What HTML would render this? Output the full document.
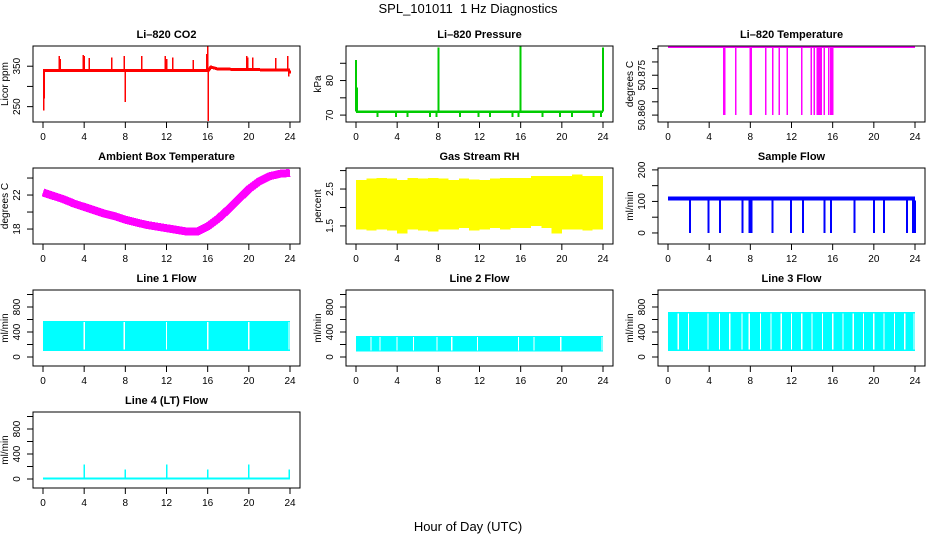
<!DOCTYPE html>
<html><head><meta charset="utf-8"><style>
body{margin:0;background:#fff}
svg{display:block;font-family:"Liberation Sans",sans-serif}
</style></head><body>
<svg id="c" width="936" height="540" viewBox="0 0 936 540" xmlns="http://www.w3.org/2000/svg">
<text x="468" y="13" text-anchor="middle" font-size="13" style="white-space:pre">SPL_101011&#160; 1 Hz Diagnostics</text>
<text x="468" y="531" text-anchor="middle" font-size="13">Hour of Day (UTC)</text>
</svg>
<script>
const xTicks=[0,4,8,12,16,20,24];
const co2BaseT=[0,16.1,16.3,17,24];
const co2BaseV=[340,340,348,343,340];
const co2SpikeT=[0.05,0.1,1.6,1.7,3.9,4.0,4.5,6.7,7.9,8.0,9.6,11.9,12.0,12.6,14.6,15.9,16.0,16.05,19.8,19.9,20.4,22.6,23.8,23.9,24.0];
const co2SpikeV=[240,270,375,368,378,375,370,372,375,262,375,375,368,372,365,380,400,215,375,372,372,370,375,325,332];
const presBase=[71];
const presSpikeT=[0,0.1,8.0,16.0,24.0];
const presSpikeV=[86,78,89.5,90,89.5];
const presDipT=[2.1,3.9,5.0,7.2,7.8,10.1,11.9,13.0,15.2,15.8,18.1,19.8,21.0,23.1,23.8];
const presDipV=[69.5];
const tempHigh=[50.8856];
const tempDropT=[5.4,5.5,6.6,8.0,8.1,9.5,10.2,10.8,11.6,13.0,13.9,14.2,14.5,14.6,14.7,14.8,14.9,15.2,15.6,15.8,15.9,16.0];
const tempDropV=[50.860];
const ambT=[0,1,2,3,4,5,6,7,8,9,10,11,12,13,14,15,16,17,18,19,20,21,22,23,24];
const ambV=[22.3,21.9,21.5,21.0,20.6,20.2,19.8,19.5,19.1,18.8,18.5,18.3,18.1,17.9,17.7,17.7,18.3,19.2,20.3,21.5,22.7,23.6,24.2,24.5,24.6];
const rhT=[0,1,2,3,4,5,6,7,8,9,10,11,12,13,14,15,16,17,18,19,20,21,22,23];
const rhTop=[2.75,2.78,2.8,2.78,2.75,2.8,2.78,2.8,2.78,2.75,2.78,2.76,2.75,2.78,2.8,2.8,2.8,2.85,2.85,2.85,2.85,2.9,2.85,2.85];
const rhBottom=[1.4,1.38,1.4,1.38,1.3,1.4,1.38,1.35,1.4,1.4,1.45,1.38,1.4,1.45,1.4,1.45,1.45,1.5,1.45,1.3,1.4,1.4,1.38,1.4];
const sfLow=[103];
const sfHigh=[115];
const sfDipT=[2.15,3.95,5.06,7.26,7.9,8.1,10.17,11.95,13.1,15.2,15.85,18.1,20.0,21.0,23.2,23.8,24.0];
const sfDipV=[0];
const l1Low=[100], l1High=[580];
const l1GapT=[4.0,7.9,12.0,16.0,20.0,23.9];
const l2Low=[85], l2High=[340];
const l2GapT=[1.46,2.34,3.97,5.6,7.87,9.3,11.8,15.8,17.3,19.9,23.9];
const l3Low=[100], l3High=[720];
const l3GapT=[1.0,2.0,3.9,5.0,6.0,7.2,7.9,9.0,10.0,11.0,12.0,13.0,14.0,15.0,16.0,17.0,18.0,19.0,20.0,21.0,22.0,23.0,23.9];
const l4Base=[12];
const l4SpikeT=[4,8,12,16,20,24];
const l4SpikeV=[230,150,230,150,230,150];

const NS='http://www.w3.org/2000/svg';
const svg=document.getElementById('c');
function mk(tag,attrs,parent){const e=document.createElementNS(NS,tag);for(const k in attrs)e.setAttribute(k,attrs[k]);(parent||svg).appendChild(e);return e;}
const colL=[33,346,658], rowT=[46,168,290,412], W=267, H=76;

function panel(name,title,col,row,ymin,ymax,yticks,ylabels,ytitle){
  const g=mk('g',{});
  
  
  const L=colL[col],T=rowT[row];
  const sx=t=>L+10+t*247/24;
  const sy=v=>T+(ymax-v)/(ymax-ymin)*H;
  const t=mk('text',{x:L+W/2,y:T-8,'text-anchor':'middle','font-size':11,'font-weight':'bold'},g);
  t.textContent=title;
  
  
  xTicks.forEach(v=>{
    mk('line',{x1:sx(v),x2:sx(v),y1:T+H,y2:T+H+6,stroke:'#000'},g);
    const l=mk('text',{x:sx(v),y:T+H+18,'text-anchor':'middle','font-size':10},g);
    l.textContent=v;
    
    
  });
  yticks.forEach((v,i)=>{
    const y=sy(v);
    mk('line',{x1:L-6,x2:L,y1:y,y2:y,stroke:'#000'},g);
    if(ylabels[i]!==''){
      const l=mk('text',{x:L-13,y:y,'text-anchor':'middle','font-size':10,transform:`rotate(-90 ${L-13} ${y})`},g);
      l.textContent=ylabels[i];
      
      
    }
  });
  const yt=mk('text',{x:L-25,y:T+H/2,'text-anchor':'middle','font-size':10,transform:`rotate(-90 ${L-25} ${T+H/2})`},g);
  yt.textContent=ytitle;
  
  
  const data=mk('g',{'shape-rendering':'crispEdges'},g);
  mk('rect',{x:L,y:T,width:W,height:H,fill:'none',stroke:'#000'},g);
  return {g:data,sx,sy};
}
function vline(p,t,v1,v2,col,w){return mk('line',{x1:p.sx(t),x2:p.sx(t),y1:p.sy(v1),y2:p.sy(v2),stroke:col,'stroke-width':w||1.5},p.g);}
function poly(p,ts,vs,col,w){const pts=ts.map((t,i)=>p.sx(t)+','+p.sy(vs[i])).join(' ');return mk('polyline',{points:pts,fill:'none',stroke:col,'stroke-width':w,'stroke-linejoin':'round'},p.g);}

// CO2
let p=panel('co2','Li–820 CO2',0,0,212,400,[250,300,350],['250','','350'],'Licor ppm');
let e=poly(p,co2BaseT,co2BaseV,'#f00',3);


co2SpikeT.forEach((t,i)=>{const s=vline(p,t,co2BaseV[0],co2SpikeV[i],'#f00',1.5);

});

// Pressure
p=panel('pressure','Li–820 Pressure',1,0,68,90,[70,75,80,85],['70','','80',''],'kPa');
e=poly(p,[0,24],[presBase[0],presBase[0]],'#0c0',2.5);


presSpikeT.forEach((t,i)=>{const s=vline(p,t,presBase[0],presSpikeV[i],'#0c0',2);

});
presDipT.forEach(t=>{const s=vline(p,t,presBase[0],presDipV[0],'#0c0',2);

});

// Temperature
p=panel('licor-temp','Li–820 Temperature',2,0,50.8574,50.8860,[50.860,50.865,50.870,50.875,50.880,50.885],['50.860','','','50.875','',''],'degrees C');
e=poly(p,[0,24],[tempHigh[0],tempHigh[0]],'#f0f',2);


tempDropT.forEach(t=>{const s=vline(p,t,tempHigh[0],tempDropV[0],'#f0f',1.5);

});

// Ambient
p=panel('ambient','Ambient Box Temperature',0,1,16.24,25.18,[18,20,22,24],['18','','22',''],'degrees C');
e=poly(p,ambT,ambV,'#f0f',8);



// Gas RH
p=panel('gas-rh','Gas Stream RH',1,1,1.01,3.07,[1.5,2,2.5,3],['1.5','','2.5',''],'percent');
rhT.forEach((t,i)=>{
  const x1=p.sx(t),x2=p.sx(Math.min(t+1,24));
  const r=mk('rect',{x:x1,y:p.sy(rhTop[i]),width:x2-x1,height:p.sy(rhBottom[i])-p.sy(rhTop[i]),fill:'#ff0'},p.g);
  
  
});

// Sample flow
p=panel('sample-flow','Sample Flow',2,1,-35,206,[0,50,100,150,200],['0','','100','','200'],'ml/min');
e=mk('rect',{x:p.sx(0),y:p.sy(sfHigh[0]),width:p.sx(24)-p.sx(0),height:p.sy(sfLow[0])-p.sy(sfHigh[0]),fill:'#00f'},p.g);


sfDipT.forEach(t=>{const s=vline(p,t,sfLow[0],sfDipV[0],'#00f',2);

});

function flowPanel(name,title,col,row,low,high,gaps){
  const q=panel(name,title,col,row,-144,1072,[0,200,400,600,800,1000],['0','','400','','800',''],'ml/min');
  const r=mk('rect',{x:q.sx(0),y:q.sy(high[0]),width:q.sx(24)-q.sx(0),height:q.sy(low[0])-q.sy(high[0]),fill:'#0ff'},q.g);
  
  
  gaps.forEach(t=>{const s=vline(q,t,low[0]+20,high[0]-20,'#fff',1.2);
  
  });
  return q;
}
flowPanel('line1-flow','Line 1 Flow',0,2,l1Low,l1High,l1GapT);
flowPanel('line2-flow','Line 2 Flow',1,2,l2Low,l2High,l2GapT);
flowPanel('line3-flow','Line 3 Flow',2,2,l3Low,l3High,l3GapT);

// Line 4
p=panel('line4-flow','Line 4 (LT) Flow',0,3,-144,1072,[0,200,400,600,800,1000],['0','','400','','800',''],'ml/min');
e=poly(p,[0,24],[l4Base[0],l4Base[0]],'#0ff',2);


l4SpikeT.forEach((t,i)=>{const s=vline(p,Math.min(t,23.95),l4Base[0],l4SpikeV[i],'#0ff',1.5);

});
</script>
</body></html>
